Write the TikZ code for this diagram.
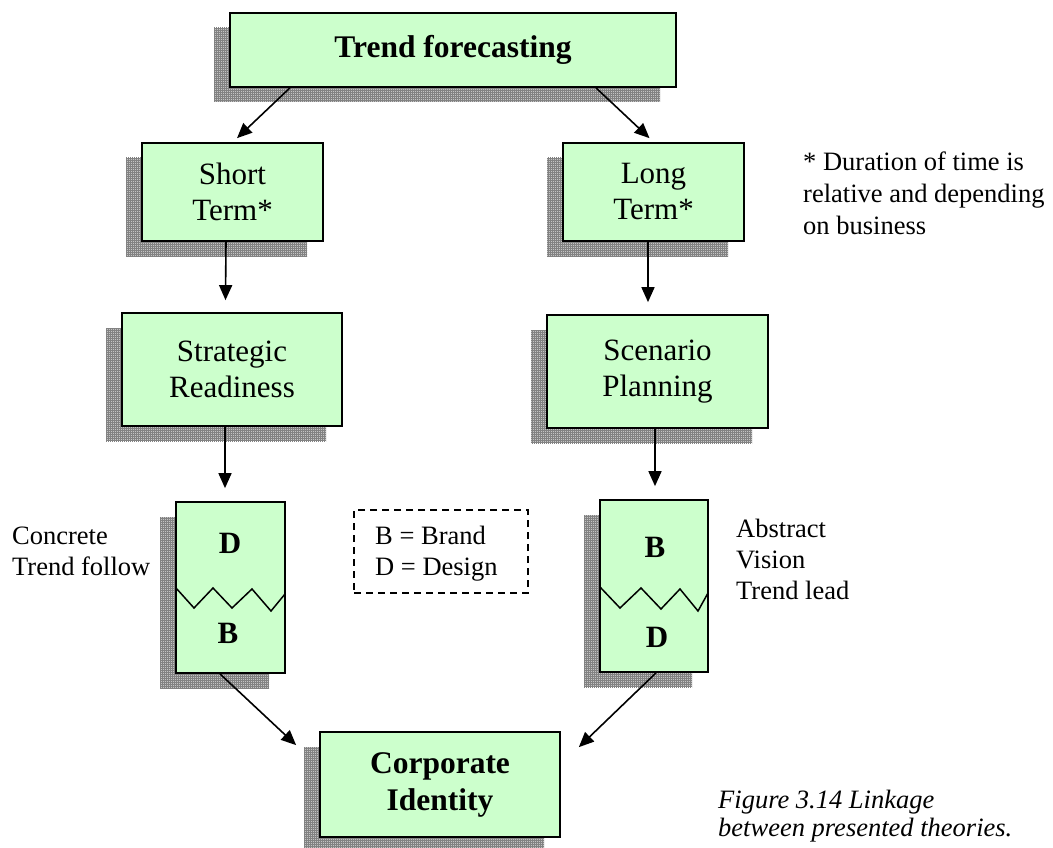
\documentclass[tikz,border=0pt]{standalone}
\usepackage{fontspec}
\setmainfont{Liberation Serif}
\usetikzlibrary{arrows.meta,shadows,patterns.meta}
\definecolor{boxgreen}{HTML}{CCFFCC}
\definecolor{shadebase}{HTML}{C4C4C4}
\definecolor{shadeline}{HTML}{828282}
\begin{document}
\begin{tikzpicture}[x=1pt,y=-1pt,
  box/.style={draw=black, line width=1.7pt, fill=boxgreen, inner sep=0pt,
    align=center, font=\fontsize{31}{36}\selectfont,
    drop shadow={shadow xshift=-16pt, shadow yshift=-15pt, opacity=1,
      fill=shadebase, draw=none,
      postaction={pattern={Hatch[distance=2pt,angle=0,line width=0.6pt]},
        pattern color=shadeline}}},
  boldbox/.style={box, font=\fontsize{31.5}{37}\selectfont\bfseries},
  letter/.style={inner sep=0pt, font=\fontsize{31}{36}\selectfont\bfseries},
  note/.style={inner sep=0pt, align=left, anchor=north west,
    font=\fontsize{26.5}{31}\selectfont},
  arr/.style={line width=1.6pt, -{Triangle[length=15pt,width=13pt]}},
  zig/.style={line width=1.5pt, line join=miter}]
\path[use as bounding box] (0,0) rectangle (1053,848);
\begin{scope}
\clip (0,0) rectangle (1053,848);

% boxes
\node[boldbox, minimum width=446pt, minimum height=74pt] (tf) at (453,50) {Trend forecasting};
\node[box, minimum width=181pt, minimum height=98pt] (st) at (232.5,192) {Short\\Term*};
\node[box, minimum width=181pt, minimum height=98pt] (lt) at (653.5,192) {Long\\Term*};
\node[box, minimum width=220pt, minimum height=113pt] (sr) at (232,369.5) {Strategic\\Readiness};
\node[box, minimum width=221pt, minimum height=113pt] (sp) at (657.5,371.5) {Scenario\\Planning};
\node[box, minimum width=109pt, minimum height=171pt] (db) at (230.5,587.5) {};
\node[box, minimum width=108pt, minimum height=172pt] (bd) at (654,586) {};
\node[boldbox, minimum width=240pt, minimum height=105pt] (ci) at (440,784.5) {Corporate\\Identity};

% split lines inside the two stacked boxes
\draw[zig] (176,588) -- (194,608) -- (213,588) -- (232,608) -- (252,589) -- (271,611) -- (285,594);
\draw[zig] (600,587) -- (620,608) -- (641,588) -- (661,609) -- (680,589) -- (698,611) -- (708,593);

% letters in the stacked boxes
\node[letter] (dtop) at (230,543) {D};
\node[letter] (bbot) at (228,633) {B};
\node[letter] (btop) at (655,547) {B};
\node[letter] (dbot) at (657,637) {D};

% connectors
\draw[arr] ([shift={(-163,0)}]tf.south) -- ([shift={(4.5,-4)}]st.north);
\draw[arr] ([shift={(143,0)}]tf.south) -- ([shift={(-4,-4)}]lt.north);
\draw[arr] ([shift={(-6.5,0)}]st.south) -- ([shift={(-6.5,-12)}]sr.north);
\draw[arr] ([shift={(-5.5,0)}]lt.south) -- ([shift={(-9.5,-12)}]sp.north);
\draw[arr] ([shift={(-7,0)}]sr.south) -- ([shift={(-5.5,-13)}]db.north);
\draw[arr] ([shift={(-2.5,0)}]sp.south) -- ([shift={(1,-13)}]bd.north);
\draw[arr] ([shift={(-10.5,0)}]db.south) -- ([shift={(-23,14)}]ci.north west);
\draw[arr] ([shift={(2,0)}]bd.south) -- ([shift={(18,16)}]ci.north east);

% legend
\node[draw=black, line width=1.6pt, dash pattern=on 7pt off 5pt,
  minimum width=174pt, minimum height=83pt, inner sep=0pt] (legend) at (441,551.5) {};
\node[note] (legendtext) at (375,526) {B = Brand\\D = Design};

% side notes
\node[note] (concrete) at (12,527) {Concrete\\Trend follow};
\node[note] (abstract) at (736,519) {Abstract\\Vision\\Trend lead};
\node[note, font=\fontsize{26.5}{32}\selectfont] (footnote) at (803,152)
  {* Duration of time is\\relative and depending\\on business};
\node[note, font=\fontsize{26.5}{28}\selectfont\itshape] (caption) at (718,790)
  {Figure 3.14 Linkage\\between presented theories.};
\end{scope}
\end{tikzpicture}
\end{document}
